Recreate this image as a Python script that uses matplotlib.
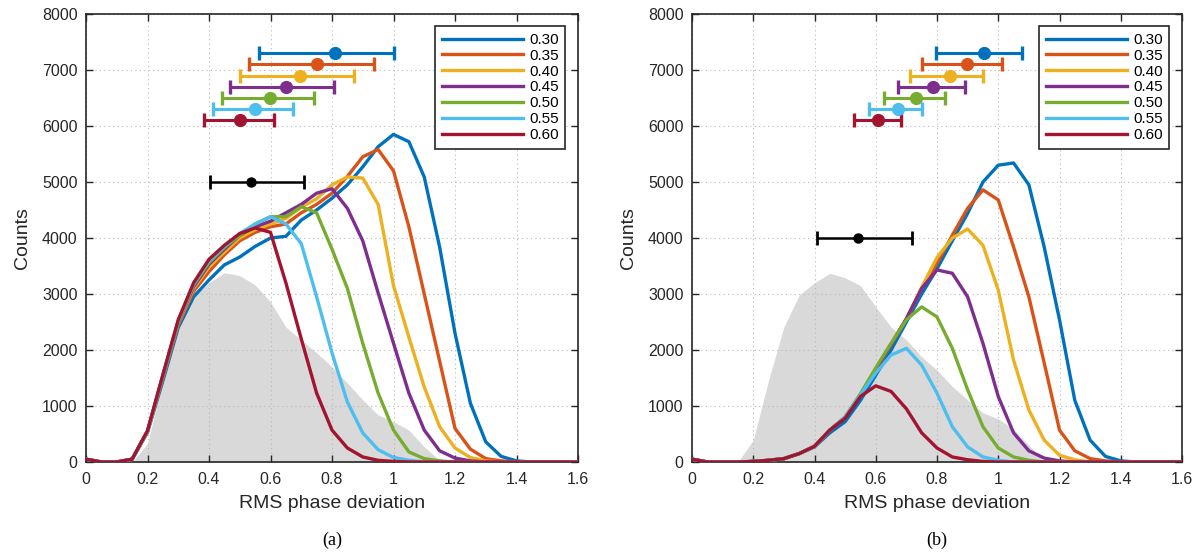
import numpy as np
import matplotlib.pyplot as plt

plt.rcParams['font.family'] = ['Liberation Sans', 'DejaVu Sans']

# bin centres
x = [0, .05, .1, .15, .2, .25, .3, .35, .4, .45, .5, .55, .6, .65, .7, .75, .8,
     .85, .9, .95, 1.0, 1.05, 1.1, 1.15, 1.2, 1.25, 1.3, 1.35, 1.4, 1.45, 1.5, 1.55, 1.6]

labels = ['0.30', '0.35', '0.40', '0.45', '0.50', '0.55', '0.60']
colors = ['#0072BD', '#D95319', '#EDB120', '#7E2F8E', '#77AC30', '#4DBEEE', '#A2142F']

# panel (a)
a_gray = [0, 0, 0, 0, 330, 1450, 2350, 2950, 3200, 3380, 3330, 3160, 2860, 2410, 2180, 1950,
          1700, 1410, 1110, 840, 720, 570, 270, 30, 0, 0, 0, 0, 0, 0, 0, 0, 0]
a_030 = [50, 0, 0, 50, 530, 1450, 2400, 2950, 3250, 3520, 3660, 3850, 4000, 4030, 4320, 4500,
         4710, 4950, 5270, 5630, 5850, 5720, 5090, 3840, 2300, 1050, 360, 100, 20, 0, 0, 0, 0]
a_035 = [50, 0, 0, 50, 540, 1500, 2450, 3050, 3400, 3700, 3950, 4100, 4200, 4250, 4450, 4600,
         4800, 5100, 5450, 5580, 5200, 4200, 3000, 1800, 600, 230, 60, 20, 0, 0, 0, 0, 0]
a_040 = [50, 0, 0, 50, 545, 1520, 2480, 3100, 3480, 3750, 4000, 4150, 4250, 4350, 4550, 4700,
         4950, 5090, 5070, 4600, 3150, 2230, 1340, 630, 250, 80, 20, 0, 0, 0, 0, 0, 0]
a_045 = [50, 0, 0, 50, 550, 1530, 2500, 3130, 3530, 3800, 4050, 4200, 4300, 4450, 4600, 4800,
         4880, 4530, 3950, 3020, 2120, 1230, 570, 200, 70, 20, 0, 0, 0, 0, 0, 0, 0]
a_050 = [50, 0, 0, 50, 550, 1540, 2510, 3160, 3560, 3830, 4050, 4250, 4380, 4380, 4560, 4450,
         3800, 3100, 2120, 1230, 570, 180, 60, 20, 0, 0, 0, 0, 0, 0, 0, 0, 0]
a_055 = [50, 0, 0, 50, 550, 1550, 2520, 3180, 3590, 3850, 4080, 4250, 4380, 4250, 3900, 2950,
         1950, 1070, 520, 220, 80, 30, 0, 0, 0, 0, 0, 0, 0, 0, 0, 0, 0]
a_060 = [50, 0, 0, 50, 560, 1560, 2540, 3200, 3620, 3870, 4080, 4180, 4100, 3200, 2200, 1230,
         570, 250, 90, 30, 10, 0, 0, 0, 0, 0, 0, 0, 0, 0, 0, 0, 0]
a_mean = [0.81, 0.75, 0.697, 0.65, 0.598, 0.55, 0.50]
a_lo = [0.563, 0.53, 0.50, 0.469, 0.442, 0.414, 0.385]
a_hi = [1.0, 0.935, 0.872, 0.806, 0.742, 0.673, 0.61]
a_ref = (0.536, 0.402, 0.71, 5000)

# panel (b)
b_gray = [0, 0, 0, 0, 390, 1460, 2410, 2980, 3200, 3370, 3290, 3150, 2770, 2410, 2180, 1880,
          1640, 1350, 1110, 880, 770, 590, 300, 0, 0, 0, 0, 0, 0, 0, 0, 0, 0]
b_030 = [50, 0, 0, 0, 10, 30, 60, 150, 270, 520, 720, 1100, 1550, 2000, 2500, 3000,
         3450, 3950, 4440, 5000, 5300, 5340, 4950, 3840, 2540, 1100, 390, 100, 20, 0, 0, 0, 0]
b_035 = [50, 0, 0, 0, 10, 30, 60, 150, 280, 570, 800, 1200, 1650, 2100, 2550, 3100,
         3550, 4050, 4530, 4860, 4680, 3840, 2950, 1770, 570, 200, 60, 20, 0, 0, 0, 0, 0]
b_040 = [50, 0, 0, 0, 10, 30, 60, 150, 280, 570, 800, 1200, 1650, 2100, 2560, 3120,
         3650, 4000, 4160, 3870, 3070, 1820, 930, 390, 120, 40, 0, 0, 0, 0, 0, 0, 0]
b_045 = [50, 0, 0, 0, 10, 30, 60, 150, 280, 570, 800, 1200, 1650, 2100, 2560, 3100,
         3430, 3370, 2950, 2120, 1170, 520, 200, 70, 20, 0, 0, 0, 0, 0, 0, 0, 0]
b_050 = [50, 0, 0, 0, 10, 30, 60, 150, 280, 570, 800, 1220, 1680, 2120, 2540, 2770,
         2590, 2030, 1290, 630, 250, 90, 30, 0, 0, 0, 0, 0, 0, 0, 0, 0, 0]
b_055 = [50, 0, 0, 0, 10, 30, 60, 150, 280, 570, 800, 1200, 1590, 1910, 2030, 1730,
         1230, 630, 270, 90, 30, 0, 0, 0, 0, 0, 0, 0, 0, 0, 0, 0, 0]
b_060 = [50, 0, 0, 0, 10, 30, 60, 150, 280, 570, 780, 1170, 1360, 1260, 950, 520,
         250, 90, 40, 10, 0, 0, 0, 0, 0, 0, 0, 0, 0, 0, 0, 0, 0]
b_mean = [0.953, 0.897, 0.843, 0.787, 0.731, 0.674, 0.607]
b_lo = [0.796, 0.752, 0.712, 0.672, 0.627, 0.579, 0.529]
b_hi = [1.077, 1.012, 0.951, 0.891, 0.826, 0.752, 0.682]
b_ref = (0.543, 0.408, 0.718, 4000)

bar_y = [7300, 7100, 6900, 6700, 6500, 6300, 6100]


def panel(ax, gray, curves, mean, lo, hi, ref, tag):
    ax.fill_between(x, 0, gray, color='#d9d9d9', lw=0, zorder=1)
    lines = []
    for c, col, lab in zip(curves, colors, labels):
        ln, = ax.plot(x, c, color=col, lw=2.4, label=lab, zorder=3)
        lines.append(ln)
    for m, l, h, yy, col in zip(mean, lo, hi, bar_y, colors):
        ax.errorbar([m], [yy], xerr=[[m - l], [h - m]], fmt='o', color=col, ms=8.5,
                    lw=2.2, capsize=5, capthick=2.4, zorder=4)
    m, l, h, yy = ref
    ax.errorbar([m], [yy], xerr=[[m - l], [h - m]], fmt='o', color='black', ms=6.5,
                lw=1.8, capsize=4.7, capthick=2, zorder=4)
    ax.set_xlim(0, 1.6)
    ax.set_ylim(0, 8000)
    ax.set_xticks(np.arange(0, 1.61, 0.2))
    ax.set_xticklabels(['0', '0.2', '0.4', '0.6', '0.8', '1', '1.2', '1.4', '1.6'])
    ax.set_yticks(range(0, 8001, 1000))
    ax.grid(True, ls=(0, (1, 3)), color='#b8b8b8', lw=0.8)
    ax.tick_params(direction='in', top=True, right=True, labelsize=11.5,
                   length=5, width=1, colors='#262626')
    ax.tick_params(axis='x', pad=7)
    ax.tick_params(axis='y', pad=6)
    for s in ax.spines.values():
        s.set_linewidth(1.2)
        s.set_color('#262626')
    ax.set_xlabel('RMS phase deviation', fontsize=14, color='#262626', labelpad=6)
    ax.set_ylabel('Counts', fontsize=14, color='#262626', labelpad=8)
    leg = ax.legend(handles=lines, loc='upper right', fontsize=11, handlelength=5.3,
                    labelspacing=0.12, handletextpad=0.4, borderpad=0.45,
                    fancybox=False, framealpha=1, edgecolor='#262626',
                    bbox_to_anchor=(0.99, 0.99))
    leg.get_frame().set_linewidth(1.2)
    ax.text(0.5, -0.175, tag, transform=ax.transAxes, ha='center', va='center',
            fontsize=13, family='Liberation Serif')


fig = plt.figure(figsize=(12.02, 5.52), dpi=100)
ax1 = fig.add_axes([86 / 1202, 1 - 462 / 552, 492 / 1202, 448 / 552])
ax2 = fig.add_axes([692 / 1202, 1 - 462 / 552, 490 / 1202, 448 / 552])

panel(ax1, a_gray, [a_030, a_035, a_040, a_045, a_050, a_055, a_060],
      a_mean, a_lo, a_hi, a_ref, '(a)')
panel(ax2, b_gray, [b_030, b_035, b_040, b_045, b_050, b_055, b_060],
      b_mean, b_lo, b_hi, b_ref, '(b)')

fig.savefig('out.png', dpi=100)
